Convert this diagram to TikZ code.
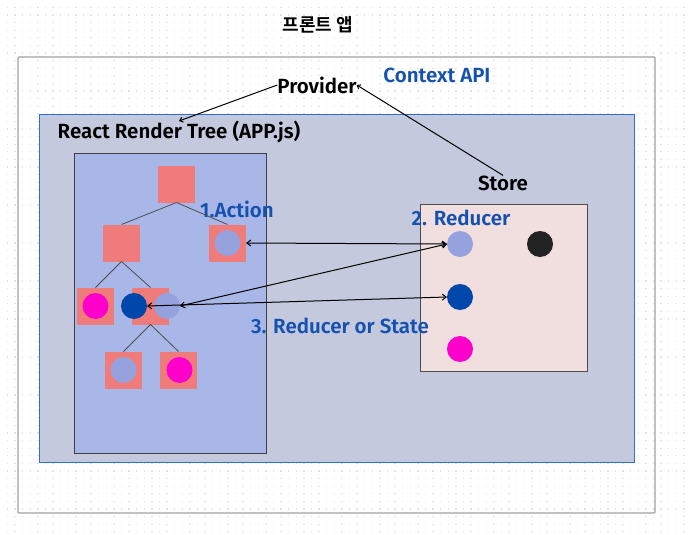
\documentclass[tikz,border=0pt]{standalone}
\usepackage{fontspec}
\setmainfont{Fira Sans}[BoldFont={Fira Sans SemiBold}]
\newfontfamily\krfont{Noto Sans CJK KR Bold}
\usetikzlibrary{arrows.meta}
\definecolor{dotc}{HTML}{E2E2E2}
\definecolor{outerc}{HTML}{A0A0A0}
\definecolor{ctxfill}{HTML}{C5C9DE}
\definecolor{ctxline}{HTML}{2F6FD0}
\definecolor{treefill}{HTML}{A9B7E8}
\definecolor{salmon}{HTML}{F07B7B}
\definecolor{lav}{HTML}{96A2DD}
\definecolor{mag}{HTML}{FF00CC}
\definecolor{dblue}{HTML}{0047AB}
\definecolor{blk}{HTML}{222222}
\definecolor{storefill}{HTML}{F1DFDF}
\definecolor{bluetxt}{HTML}{1552B0}
\begin{document}
\begin{tikzpicture}[x=1pt,y=-1pt,
  sq/.style={fill=salmon,minimum size=37pt,inner sep=0pt,outer sep=0pt},
  dot/.style={circle,minimum size=26pt,inner sep=0pt,outer sep=0pt},
  lbl/.style={font=\fontsize{20.5}{22}\selectfont\bfseries,inner sep=0pt},
  blbl/.style={lbl,text=bluetxt},
  edge/.style={draw=black!70,line width=0.8pt},
  conn/.style={draw=black,line width=1pt},
  bigarrows/.style={{Straight Barb[length=4pt,width=6pt]}-{Straight Barb[length=4pt,width=6pt]}},
  smallarrow/.style={-{Straight Barb[length=3pt,width=5pt]}}
]
\useasboundingbox (0,0) rectangle (688,535);
\fill[white] (0,0) rectangle (688,535);
% dot grid
\foreach \y in {7.4,15.0,...,535} {
  \draw[dotc,line width=1.3pt,dash pattern=on 1.3pt off 6.3pt] (6.8,\y) -- (688,\y);
}
% title
\node[font=\krfont\fontsize{18}{20}\selectfont] (title) at (318,25) {프론트 앱};
% outer frame
\draw[outerc,line width=1.2pt,rounded corners=1pt] (18,57) rectangle (655,513);
% context box
\draw[ctxline,fill=ctxfill,line width=1pt] (39,114) rectangle (634,462);
% tree box
\draw[black!75,fill=treefill,line width=0.8pt] (74,153) rectangle (266,453);
% store box
\draw[black!70,fill=storefill,line width=0.8pt] (420,204) rectangle (587,371);

% labels
\node[blbl] (ctx) at (437,75) {Context API};
\node[lbl] (prov) at (317,85) {Provider};
\node[lbl] (rrt) at (179,132) {React Render Tree (APP.js)};
\node[lbl] (store) at (503,183) {Store};
\node[blbl] (act) at (237,209) {1.Action};
\node[blbl] (red) at (461,218) {2. Reducer};
\node[blbl] (ros) at (340,326) {3. Reducer or State};

% tree squares
\node[sq] (t0) at (176.5,184) {};
\node[sq] (t1) at (121.5,243) {};
\node[sq] (t2) at (227.5,243) {};
\node[sq] (t3) at (95.5,306) {};
\node[sq] (t4) at (150.5,306) {};
\node[sq] (t5) at (123.5,370) {};
\node[sq] (t6) at (178.5,370) {};
\draw[edge] (t0.south) -- (t1.north);
\draw[edge] (t0.south) -- (t2.north);
\draw[edge] (t1.south) -- (t3.north);
\draw[edge] (t1.south) -- (t4.north);
\draw[edge] (t4.south) -- (t5.north);
\draw[edge] (t4.south) -- (t6.north);
% tree circles
\node[dot,fill=lav] (c2) at (227.5,243) {};
\node[dot,fill=mag] (c3) at (95.5,306) {};
\node[dot,fill=dblue] (c4a) at (134,306) {};
\node[dot,fill=lav] (c4b) at (167,306) {};
\node[dot,fill=lav] (c5) at (123.5,370) {};
\node[dot,fill=mag] (c6) at (179.5,370) {};
% store circles
\node[dot,fill=lav] (s1) at (460,244) {};
\node[dot,fill=blk] (s2) at (540,244) {};
\node[dot,fill=dblue] (s3) at (460,297) {};
\node[dot,fill=mag] (s4) at (460,349) {};

% connectors
\coordinate (rrtp) at (179,121);
\draw[conn,smallarrow] (prov.west) -- (rrtp);
\draw[conn,smallarrow] (store.north) -- (prov.east);
\draw[conn,bigarrows] (t2.east) -- (s1.west);
\draw[conn,bigarrows] (c4b.east) -- (s1.west);
\draw[conn,bigarrows] (c4a.east) -- (s3.west);
\end{tikzpicture}
\end{document}
